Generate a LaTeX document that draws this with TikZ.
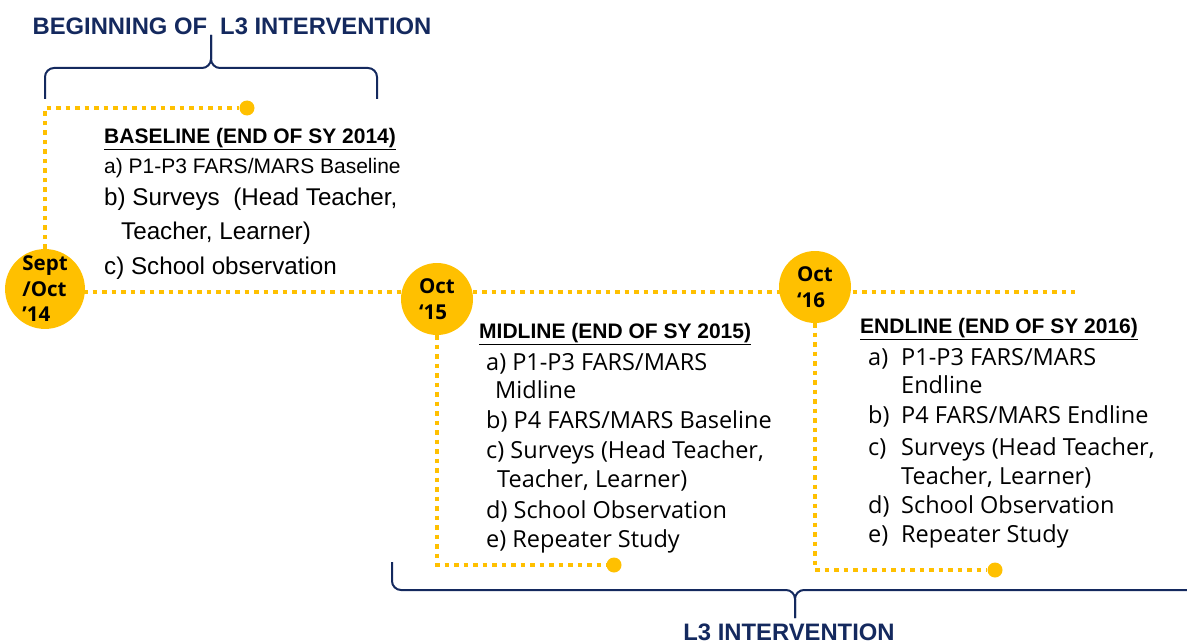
\documentclass[tikz,border=0pt]{standalone}
\usepackage{fontspec}
\setmainfont{Liberation Sans}
\newfontfamily\itemfont{Open Sans}
\usetikzlibrary{positioning,calc}
\definecolor{gold}{HTML}{FFC000}
\definecolor{navy}{HTML}{14295E}
\tikzset{
  milestone/.style={circle,fill=gold,inner sep=0pt,minimum size=72pt,align=left,
    font=\itemfont\bfseries\fontsize{20.5}{25.5}\selectfont,text=black},
  enddot/.style={circle,fill=gold,inner sep=0pt,minimum size=15pt},
  track/.style={draw=gold,line width=4.5pt,dash pattern=on 4.5pt off 5pt},
  bracket/.style={draw=navy,line width=2pt,rounded corners=9pt},
  phase/.style={anchor=base,inner sep=0pt,text=navy,font=\bfseries\fontsize{23.8}{27}\selectfont},
  head/.style={anchor=base west,inner sep=0pt,font=\bfseries\fontsize{21}{25}\selectfont},
  lineA/.style={anchor=base west,inner sep=0pt,font=\fontsize{21}{25}\selectfont},
  lineB/.style={anchor=base west,inner sep=0pt,font=\fontsize{24.2}{28}\selectfont},
  lineC/.style={anchor=base west,inner sep=0pt,font=\itemfont\fontsize{23.5}{28}\selectfont},
}
\newcommand{\tag}[1]{\makebox[33pt][l]{#1}}

\begin{document}
\begin{tikzpicture}[x=1pt,y=-1pt]
  \useasboundingbox (0,0) rectangle (1187,642);
  % timeline
  \coordinate (t0) at (45,292);
  \coordinate (t1) at (1075,292);
  \draw[track] (t0) -- (t1);
  \node[milestone] (m14) at (45,289) {Sept\\/Oct\\’14};
  \node[milestone] (m15) at (437,299) {Oct\\‘15};
  \node[milestone] (m16) at (815,287) {Oct\\‘16};
  % legs to the end dots
  \node[enddot] (d14) at (247,108) {};
  \node[enddot] (d15) at (614,565) {};
  \node[enddot] (d16) at (995,570) {};
  \draw[track] (m14.north) -- (m14.north |- d14) -- (d14);
  \draw[track] (m15.south) -- (m15.south |- d15) -- (d15);
  \draw[track] (m16.south) -- (m16.south |- d16) -- (d16);
  % braces
  \coordinate (bl) at (45,99);
  \coordinate (br) at (377,99);
  \coordinate (bm) at (211,68);
  \coordinate (bt) at (211,35);
  \draw[bracket] (bl) -- (bl |- bm) -- (bm) -- (bt);
  \draw[bracket] (br) -- (br |- bm) -- (bm) -- (bt);
  \coordinate (ll) at (392,562);
  \coordinate (lr) at (1200,590);
  \coordinate (lm) at (795,590);
  \coordinate (lt) at (795,618);
  \draw[bracket] (ll) -- (ll |- lm) -- (lm) -- (lt);
  \draw[bracket] (lr) -- (lm) -- (lt);
  \node[phase] (begin) at (232,35) {BEGINNING OF\hspace{0.55em}L3 INTERVENTION};
  \node[phase] (interv) at (789,640) {L3 INTERVENTION};
  % baseline
  \node[head] (bhead) at (104,143) {\underline{BASELINE (END OF SY 2014)}};
  \node[lineA] (ba) at (104,173) {a) P1-P3 FARS/MARS Baseline};
  \node[lineB] (bb) at (104,205) {b) Surveys\ \ (Head Teacher,};
  \node[lineB] (bb2) at (121,239) {Teacher, Learner)};
  \node[lineB] (bc) at (104,274) {c) School observation};
  % midline
  \node[head] (mhead) at (479,338) {\underline{MIDLINE (END OF SY 2015)}};
  \node[lineC] (ma) at (486,370) {a) P1-P3 FARS/MARS};
  \node[lineC] (ma2) at (495,398) {Midline};
  \node[lineC] (mb) at (486,428) {b) P4 FARS/MARS\ Baseline};
  \node[lineC] (mc) at (486,458) {c) Surveys (Head Teacher,};
  \node[lineC] (mc2) at (497,487) {Teacher, Learner)};
  \node[lineC] (md) at (486,518) {d) School Observation};
  \node[lineC] (me) at (486,547) {e) Repeater Study};
  % endline
  \node[head] (ehead) at (860,333) {\underline{ENDLINE (END OF SY 2016)}};
  \node[lineC] (ea) at (868,365) {\tag{a)}P1-P3 FARS/MARS};
  \node[lineC] (ea2) at (901,393) {Endline};
  \node[lineC] (eb) at (868,423) {\tag{b)}P4 FARS/MARS\ Endline};
  \node[lineC] (ec) at (868,455) {\tag{c)}Surveys (Head Teacher,};
  \node[lineC] (ec2) at (901,484) {Teacher, Learner)};
  \node[lineC] (ed) at (868,513) {\tag{d)}School Observation};
  \node[lineC] (ee) at (868,542) {\tag{e)}Repeater Study};
\end{tikzpicture}
\end{document}
